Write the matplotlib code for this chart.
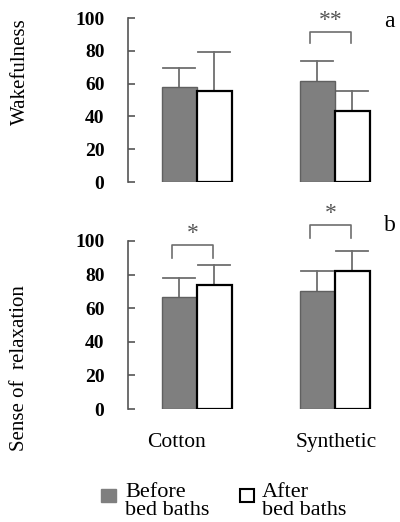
import matplotlib
matplotlib.use('Agg')
import matplotlib.pyplot as plt
from matplotlib.patches import Rectangle
import numpy as np

plt.rcParams['font.family'] = ['Liberation Serif', 'DejaVu Serif']

categories = ['Cotton', 'Synthetic']

# panel a: wakefulness
wake_before = [58, 61.5]
wake_before_sd = [11.5, 12.5]
wake_after = [55.5, 43.5]
wake_after_sd = [23.5, 12]

# panel b: sense of relaxation
relax_before = [66.5, 70.5]
relax_before_sd = [11.5, 11.5]
relax_after = [74, 82]
relax_after_sd = [12, 12]

# significance marks: (group index, bracket top, leg bottom, label)
sig_a = [(1, 91.5, 84.8, '**')]
sig_b = [(0, 97.6, 90.0, '*'), (1, 109.5, 101.8, '*')]

W, H = 400, 522
fig = plt.figure(figsize=(W / 100, H / 100), dpi=100)

def px_axes(left, right, top, bottom):
    return fig.add_axes([left / W, 1 - bottom / H, (right - left) / W, (bottom - top) / H])

ax_a = px_axes(128, 380, 18, 182)
ax_b = px_axes(128, 380, 241, 409)

gray = '#7f7f7f'
errc = '#6e6e6e'
width = 0.254
x = np.arange(len(categories))

def draw_panel(ax, before, before_sd, after, after_sd, sigs, letter, letter_y):
    ax.bar(x - width / 2, before, width, color=gray, edgecolor='#606060', linewidth=1.0)
    ax.bar(x + width / 2, after, width, color='white', edgecolor='black', linewidth=1.6)
    for xs, vals, sds in ((x - width / 2, before, before_sd), (x + width / 2, after, after_sd)):
        for xi, v, s in zip(xs, vals, sds):
            ax.plot([xi, xi], [v, v + s], color=errc, lw=1.3, zorder=0)
            ax.plot([xi - width / 2 + 0.01, xi + width / 2 - 0.01], [v + s, v + s],
                    color=errc, lw=1.3, zorder=0)
    for gi, top, bot, lab in sigs:
        x0, x1 = gi - 0.18, gi + 0.12
        ax.plot([x0, x0, x1, x1], [bot, top, top, bot], color=errc, lw=1.2, clip_on=False)
        ax.text((x0 + x1) / 2, top + 0.5, lab, ha='center', va='bottom', fontsize=17,
                color='#555555', clip_on=False)
    ax.text(1.40, letter_y, letter, ha='center', va='center', fontsize=17, clip_on=False)
    ax.set_xlim(-0.5, 1.33)
    ax.set_ylim(0, 100)
    ax.set_yticks(range(0, 101, 20))
    ax.set_xticks([])
    for sp in ['top', 'right', 'bottom']:
        ax.spines[sp].set_visible(False)
    ax.spines['left'].set_color('#555555')
    ax.spines['left'].set_linewidth(1.2)
    ax.tick_params(axis='y', direction='in', length=5, width=1.2, color='#555555',
                   labelsize=14, pad=17)
    for t in ax.get_yticklabels():
        t.set_fontweight('bold')

draw_panel(ax_a, wake_before, wake_before_sd, wake_after, wake_after_sd, sig_a, 'a', 98)
draw_panel(ax_b, relax_before, relax_before_sd, relax_after, relax_after_sd, sig_b, 'b', 109)

# category labels
for xi, lab in zip([-0.15, 1.01], categories):
    ax_b.text(xi, -20, lab, ha='center', va='center', fontsize=15.5, clip_on=False)

fig.text(20 / W, 1 - 72 / H, 'Wakefulness', rotation=90, ha='center', va='center', fontsize=15)
fig.text(20 / W, 1 - 368 / H, 'Sense of  relaxation', rotation=90, ha='center', va='center',
         fontsize=15)

# legend
fig.add_artist(Rectangle((101 / W, 1 - 502 / H), 15 / W, 13 / H, transform=fig.transFigure,
                         facecolor=gray, edgecolor=gray))
fig.add_artist(Rectangle((240 / W, 1 - 502 / H), 14 / W, 13 / H, transform=fig.transFigure,
                         facecolor='white', edgecolor='black', linewidth=1.5))
fig.text(125 / W, 1 - 483 / H, 'Before\nbed baths', ha='left', va='top', fontsize=16,
         linespacing=0.9)
fig.text(262 / W, 1 - 483 / H, 'After\nbed baths', ha='left', va='top', fontsize=16,
         linespacing=0.9)

fig.savefig('out.png', dpi=100)
